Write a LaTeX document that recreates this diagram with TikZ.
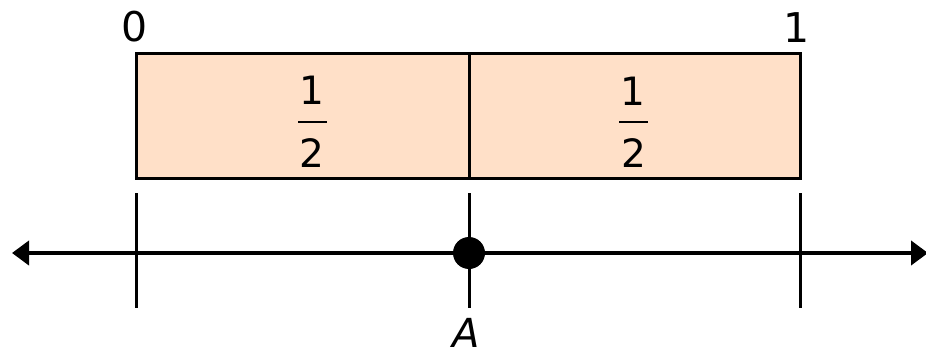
\documentclass[tikz,border=0pt]{standalone}
\usepackage{fontspec}
\setmainfont{DejaVu Sans}
\usetikzlibrary{arrows.meta}
\definecolor{peach}{RGB}{255,224,200}
\begin{document}
\begin{tikzpicture}[x=1pt,y=-1pt,
  boxpart/.style={draw=black,line width=3pt,fill=peach},
  tickline/.style={line width=3pt},
  axisline/.style={line width=4pt,{Triangle[length=17pt,width=24pt]}-{Triangle[length=17pt,width=24pt]}},
  lbl/.style={font=\fontsize{41}{44}\selectfont,inner sep=0pt},
  fraclbl/.style={font=\fontsize{39}{42}\selectfont,inner sep=0pt},
  fracbar/.style={line width=2.5pt}]
\useasboundingbox (0,0) rectangle (926,353);
% boxes
\draw[boxpart] (136,54) rectangle (469,178);
\draw[boxpart] (469,54) rectangle (800,178);
% labels 0 and 1
\node[lbl] (zero) at (135,27) {0};
\node[lbl] (one) at (797,28) {1};
% fractions
\node[fraclbl] (n1) at (312,90) {1};
\node[fraclbl] (d1) at (312,153) {2};
\coordinate (b1l) at (298,122);
\coordinate (b1r) at (327,122);
\draw[fracbar] (b1l) -- (b1r);
\node[fraclbl] (n2) at (633,91) {1};
\node[fraclbl] (d2) at (634,153) {2};
\coordinate (b2l) at (619,122);
\coordinate (b2r) at (648,122);
\draw[fracbar] (b2l) -- (b2r);
% ticks
\coordinate (t0a) at (136,193); \coordinate (t0b) at (136,308);
\coordinate (tma) at (469,193); \coordinate (tmb) at (469,308);
\coordinate (t1a) at (800,193); \coordinate (t1b) at (800,308);
\draw[tickline] (t0a) -- (t0b);
\draw[tickline] (tma) -- (tmb);
\draw[tickline] (t1a) -- (t1b);
% axis
\coordinate (axl) at (12,253);
\coordinate (axr) at (928,253);
\draw[axisline] (axl) -- (axr);
% point A
\node[circle,fill=black,minimum size=32pt,inner sep=0pt] (dot) at (469,253) {};
\node[lbl,font=\fontsize{40}{44}\selectfont\itshape] (A) at (466,333) {A};
\end{tikzpicture}
\end{document}
